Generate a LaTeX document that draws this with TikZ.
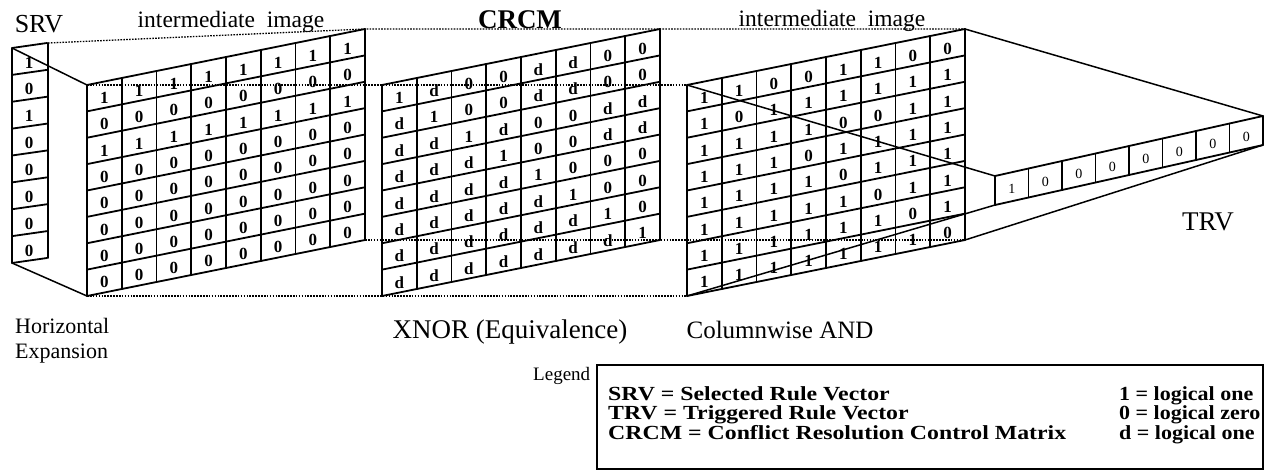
\documentclass[tikz,border=0pt]{standalone}
\usepackage{fontspec}
\setmainfont{Liberation Serif}
\newfontfamily\legfont[FakeStretch=1.19]{Liberation Serif}
\newfontfamily\legfontr[FakeStretch=1.1]{Liberation Serif}
\newcommand\mygrid[3]{%
  \coordinate (#2tl) at ({#1},85);
  \coordinate (#2tr) at ({#1+278},29);
  \coordinate (#2bl) at ({#1},296);
  \coordinate (#2br) at ({#1+278},240);
  \foreach \ci in {0,...,8}{\draw[gridl] ({#1+\ci*34.75},{85-7*\ci}) -- ++(0,211);}
  \foreach \ri in {0,...,8}{\draw[gridl] ({#1},{85+\ri*26.375}) -- ({#1+278},{29+\ri*26.375});}
  \foreach \row [count=\ri] in {#3}{%
    \foreach \v [count=\ci] in \row {%
      \node[cell] (#2-\ri-\ci) at ({#1+(\ci-0.5)*34.75},{85-7*(\ci-0.5)+(\ri-0.5)*26.375+3}) {\v};}}
}
\begin{document}
\begin{tikzpicture}[x=1pt,y=-1pt,
  gridl/.style={line width=1.8pt, line cap=round},
  dots/.style={line width=1.3pt, dash pattern=on 1.6pt off 1.3pt},
  persp/.style={line width=1.5pt},
  cell/.style={inner sep=0pt, font=\fontsize{17}{17}\selectfont\bfseries},
  tcell/.style={inner sep=0pt, font=\fontsize{14}{14}\selectfont},
  lbl/.style={inner sep=0pt, anchor=base},
  legtxt/.style={inner sep=0pt, anchor=base west, font=\legfont\fontsize{20}{20}\selectfont\bfseries},
  legtxtr/.style={inner sep=0pt, anchor=base west, font=\legfontr\fontsize{20}{20}\selectfont\bfseries},
]
\useasboundingbox (0,0) rectangle (1264,472);
% SRV corners
\coordinate (srvtl) at (12,48);
\coordinate (srvtr) at (48,43);
\coordinate (srvbl) at (12,263);
\coordinate (srvbr) at (48,258);
% TRV corners
\coordinate (trvtl) at (995,176);
\coordinate (trvtr) at (1263,116);
\coordinate (trvbl) at (995,205);
\coordinate (trvbr) at (1263,145);
% matrix corners (for dotted lines)
\coordinate (m1tl) at (87,85);   \coordinate (m1tr) at (365,29);
\coordinate (m1bl) at (87,296);  \coordinate (m1br) at (365,240);
\coordinate (m2tl) at (382,85);  \coordinate (m2tr) at (660,29);
\coordinate (m2bl) at (382,296); \coordinate (m2br) at (660,240);
\coordinate (m3tl) at (687,85);  \coordinate (m3tr) at (965,29);
\coordinate (m3bl) at (687,296); \coordinate (m3br) at (965,240);
% hidden (dotted) edges
\draw[dots] (srvtr) -- (m1tr) -- (m2tr) -- (m3tr);
\draw[dots] (m1tl) -- (m2tl) -- (m3tl);
\draw[dots] (m1bl) -- (m2bl) -- (m3bl);
\draw[dots] (m1br) -- (m2br) -- (m3br);
% SRV
\draw[gridl] (srvtl) -- (srvbl);
\draw[gridl] (srvtr) -- (srvbr);
\foreach \ri in {0,...,8}{\draw[gridl] (12,{48+\ri*26.875}) -- (47,{43+\ri*26.875});}
\foreach \v [count=\ri] in {1,0,1,0,0,0,0,0}{%
  \node[cell] (srv-\ri) at (29,{46+(\ri-0.5)*26.875+3}) {\v};}
% matrices
\mygrid{87}{a}{{1,1,1,1,1,1,1,1},{0,0,0,0,0,0,0,0},{1,1,1,1,1,1,1,1},{0,0,0,0,0,0,0,0},{0,0,0,0,0,0,0,0},{0,0,0,0,0,0,0,0},{0,0,0,0,0,0,0,0},{0,0,0,0,0,0,0,0}}
\mygrid{382}{b}{{1,d,0,0,d,d,0,0},{d,1,0,0,d,d,0,0},{d,d,1,d,0,0,d,d},{d,d,d,1,0,0,d,d},{d,d,d,d,1,0,0,0},{d,d,d,d,d,1,0,0},{d,d,d,d,d,d,1,0},{d,d,d,d,d,d,d,1}}
\mygrid{687}{c}{{1,1,0,0,1,1,0,0},{1,0,1,1,1,1,1,1},{1,1,1,1,0,0,1,1},{1,1,1,0,1,1,1,1},{1,1,1,1,0,1,1,1},{1,1,1,1,1,0,1,1},{1,1,1,1,1,1,0,1},{1,1,1,1,1,1,1,0}}
% TRV
\foreach \ci in {0,...,8}{\draw[gridl] ({995+\ci*33.5},{176-7.5*\ci}) -- ++(0,29);}
\draw[gridl] (trvtl) -- (trvtr);
\draw[gridl] (trvbl) -- (trvbr);
\foreach \v [count=\ci] in {1,0,0,0,0,0,0,0}{%
  \node[tcell] (trv-\ci) at ({995+(\ci-0.5)*33.5},{176-7.5*(\ci-0.5)+17}) {\v};}
% perspective lines
\draw[persp] (srvtl) -- (m1tl);
\draw[persp] (srvbl) -- (m1bl);
\draw[persp] (m3tl) -- (trvtl);
\draw[persp] (m3bl) -- (trvbl);
\draw[persp] (m3tr) -- (trvtr);
\draw[persp] (m3br) -- (trvbr);
% labels
\node[lbl, font=\fontsize{26}{26}\selectfont] (lsrv) at (39,32) {SRV};
\node[lbl, font=\fontsize{23.5}{23.5}\selectfont] (lint1) at (231,27) {intermediate\ \ image};
\node[lbl, font=\fontsize{27}{27}\selectfont\bfseries] (lcrcm) at (520,28) {CRCM};
\node[lbl, font=\fontsize{23.5}{23.5}\selectfont] (lint2) at (832,26) {intermediate\ \ image};
\node[lbl, font=\fontsize{27}{27}\selectfont] (ltrv) at (1208,230) {TRV};
\node[inner sep=0pt, anchor=north west, align=left, font=\fontsize{22}{25}\selectfont] (lhor) at (15,318) {Horizontal\\Expansion};
\node[lbl, font=\fontsize{27}{27}\selectfont] (lxnor) at (510,338) {XNOR (Equivalence)};
\node[lbl, font=\fontsize{25}{25}\selectfont] (land) at (780,338) {Columnwise AND};
% legend
\node[inner sep=0pt, anchor=base west, font=\fontsize{19}{19}\selectfont] (leg) at (533,380) {Legend};
\node[draw, line width=1.5pt, minimum width=666pt, minimum height=104pt, anchor=north west, inner sep=0pt] (legbox) at (596,364) {};
\node[legtxt] (l1) at (608,400) {SRV = Selected Rule Vector};
\node[legtxt] (l2) at (608,419.5) {TRV = Triggered Rule Vector};
\node[legtxt] (l3) at (608,439) {CRCM = Conflict Resolution Control Matrix};
\node[legtxtr] (r1) at (1119,400) {1 = logical one};
\node[legtxtr] (r2) at (1119,419.5) {0 = logical zero};
\node[legtxtr] (r3) at (1119,439) {d = logical one};
\end{tikzpicture}
\end{document}
